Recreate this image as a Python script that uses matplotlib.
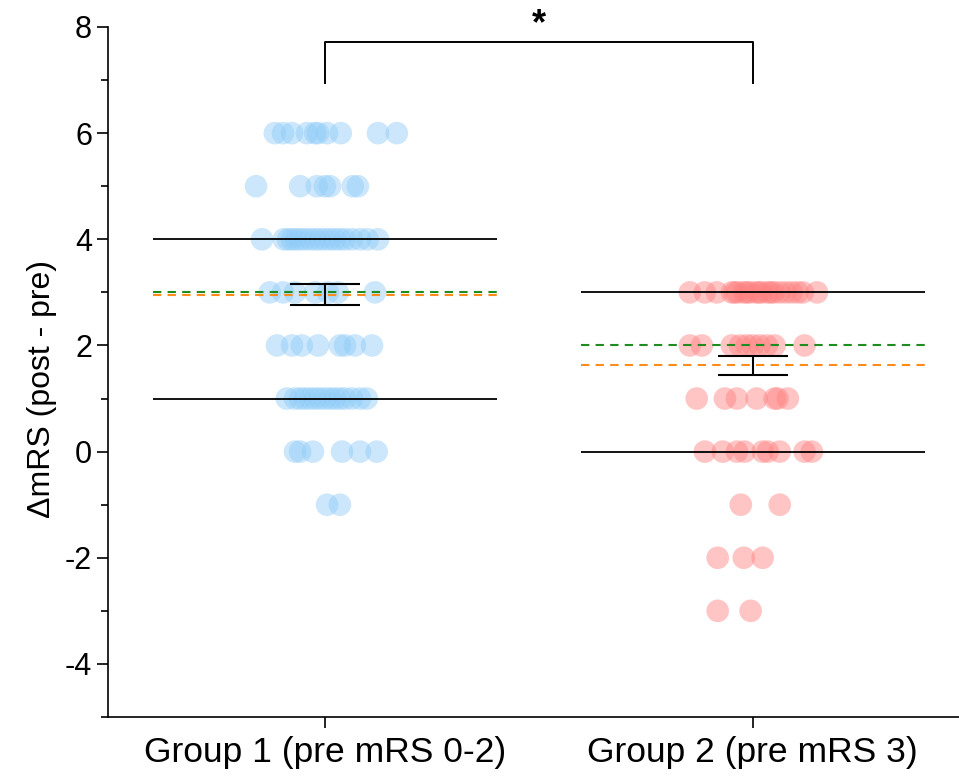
import matplotlib
matplotlib.use("Agg")
import matplotlib.pyplot as plt
import numpy as np

plt.rcParams['font.family'] = ['Liberation Sans', 'DejaVu Sans']

categories = ["Group 1 (pre mRS 0-2)", "Group 2 (pre mRS 3)"]

# Group 1 points: (value, jitter offset)
g1_values = {
    6: [-0.117, -0.098, -0.077, -0.042, -0.023, -0.016, 0.005, 0.037, 0.124, 0.168],
    5: [-0.161, -0.058, -0.019, 0.0, 0.012, 0.065, 0.077],
    4: [-0.147, -0.096, -0.086, -0.077, -0.068, -0.058, -0.047, -0.035, -0.023, -0.012,
        0.0, 0.012, 0.023, 0.035, 0.047, 0.063, 0.082, 0.100, 0.124],
    3: [-0.129, -0.098, -0.070, -0.023, 0.007, 0.030, 0.117],
    2: [-0.112, -0.077, -0.054, -0.016, 0.035, 0.047, 0.070, 0.110],
    1: [-0.089, -0.070, -0.058, -0.047, -0.035, -0.023, -0.012, 0.0, 0.012, 0.023,
        0.035, 0.047, 0.063, 0.082, 0.098],
    0: [-0.070, -0.058, -0.028, 0.040, 0.082, 0.121],
    -1: [0.005, 0.035],
}
g2_values = {
    3: [-0.147, -0.112, -0.084, -0.049, -0.042, -0.035, -0.021, -0.014, -0.007, 0.007,
        0.014, 0.021, 0.035, 0.042, 0.049, 0.063, 0.077, 0.091, 0.105, 0.117, 0.150],
    2: [-0.147, -0.119, -0.049, -0.030, -0.014, 0.0, 0.016, 0.033, 0.051, 0.121],
    1: [-0.131, -0.065, -0.037, 0.009, 0.051, 0.058, 0.082],
    0: [-0.112, -0.070, -0.037, -0.019, 0.023, 0.035, 0.063, 0.121, 0.138],
    -1: [-0.028, 0.063],
    -2: [-0.082, -0.021, 0.023],
    -3: [-0.082, -0.005],
}

q1 = [1, 0]      # lower quartile
q3 = [4, 3]      # upper quartile
medians = [3, 2]
means = [2.96, 1.63]
sems = [0.20, 0.18]

yticks = [-4, -2, 0, 2, 4, 6, 8]

colors = ['#8ECBF8', '#FF8080']

fig = plt.figure(figsize=(9.59, 7.78), dpi=100)
ax = fig.add_axes([108/959, 61/778, 851/959, 690/778])

for i, data in enumerate([g1_values, g2_values]):
    pos = i + 1
    xs, ys = [], []
    for v, offs in data.items():
        for o in offs:
            xs.append(pos + o)
            ys.append(v)
    ax.scatter(xs, ys, s=(16.3)**2, color=colors[i], alpha=0.45, edgecolors='none', zorder=2)

hw = 0.402
for i in range(2):
    pos = i + 1
    ax.hlines([q1[i], q3[i]], pos - hw, pos + hw, color='black', lw=1.3, zorder=3)
    ax.hlines(means[i], pos - hw, pos + hw, color='#FF8C1A', lw=1.5, linestyles=(0, (4, 3)), zorder=4)
    ax.hlines(medians[i], pos - hw, pos + hw, color='#1E8C1E', lw=1.5, linestyles=(0, (4, 3)), zorder=5)
    ax.errorbar(pos, means[i], yerr=sems[i], color='black', lw=1.5, capsize=25, capthick=1.5, zorder=6)

# significance bracket
ax.plot([1, 1, 2, 2], [6.95, 7.72, 7.72, 6.95], color='black', lw=1.4, clip_on=False)
ax.text(1.5, 8.05, '*', ha='center', va='center', fontsize=26, fontweight='bold', clip_on=False)

ax.set_xlim(0.493, 2.482)
ax.set_ylim(-5, 8)
ax.set_xticks([1, 2])
ax.set_xticklabels(categories, fontsize=25.5)
ax.set_yticks(yticks)
ax.set_yticklabels([str(t) for t in yticks], fontsize=22)
ax.set_yticks([-5, -3, -1, 1, 3, 5, 7], minor=True)
ax.tick_params(axis='both', which='major', direction='out', length=8, width=1.2)
ax.tick_params(axis='y', which='minor', direction='out', length=5, width=1.2)
ax.tick_params(axis='x', which='major', pad=6)
ax.spines['top'].set_visible(False)
ax.spines['right'].set_visible(False)
ax.spines['left'].set_linewidth(1.2)
ax.spines['bottom'].set_linewidth(1.2)
ax.set_ylabel('ΔmRS (post - pre)', fontsize=23)
ax.yaxis.set_label_coords(-0.060, 0.475)

fig.savefig('out.png', dpi=100)
